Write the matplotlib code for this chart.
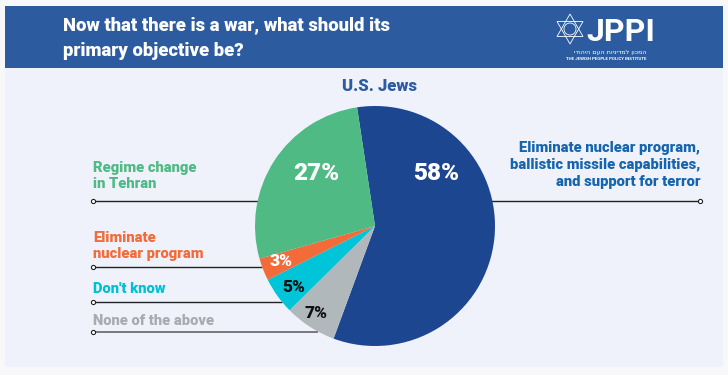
import matplotlib
matplotlib.use("Agg")
import matplotlib.pyplot as plt
from matplotlib.patches import Rectangle, Polygon
import numpy as np

# ---- data ----
categories = ["Eliminate nuclear program,\nballistic missile capabilities,\nand support for terror",
              "None of the above", "Don't know", "Eliminate\nnuclear program",
              "Regime change\nin Tehran"]
values = [58, 7, 5, 3, 27]
pct_labels = ["58%", "7%", "5%", "3%", "27%"]
colors = ["#1d4690", "#b1b8bc", "#00c4d8", "#f26b38", "#4fba84"]
label_colors = ["#1565ae", "#a8acb0", "#00c0d4", "#f26b38", "#4fba84"]
pct_colors = ["white", "#111111", "#111111", "white", "white"]
title = "Now that there is a war, what should its\nprimary objective be?"
subtitle = "U.S. Jews"

W, H = 728, 375
fig = plt.figure(figsize=(W / 100, H / 100), dpi=100)
fig.patch.set_facecolor("#f8f8fb")

bg = fig.add_axes([0, 0, 1, 1], zorder=0)
bg.set_xlim(0, W)
bg.set_ylim(H, 0)
bg.axis("off")

# panels
bg.add_patch(Rectangle((5, 68), 718, 299, facecolor="#eff2fb", edgecolor="none"))
bg.add_patch(Rectangle((5, 6), 718, 62, facecolor="#2c5ba0", edgecolor="none"))

FONT = "Roboto"
HW = 900
bg.text(63, 38, title, color="white", fontsize=13.3, fontweight=HW,
        family=FONT, va="center", ha="left", linespacing=1.6)

# logo
cx, cy, r = 570, 29, 15
for rot in (90, -90):
    ang = np.deg2rad(np.array([rot, rot + 120, rot + 240]))
    pts = np.column_stack([cx + r * np.cos(ang), cy - r * np.sin(ang)])
    bg.add_patch(Polygon(pts, closed=True, fill=False, edgecolor="white", lw=0.6))
circ = plt.Circle((cx, cy), 6, fill=False, edgecolor="white", lw=0.6)
bg.add_patch(circ)
bg.text(586, 32, "JPPI", color="white", fontsize=23, fontweight="bold",
        family=FONT, va="center", ha="left")
bg.text(646, 52, "המכון למדיניות העם היהודי"[::-1], color="white", fontsize=4.6,
        family="DejaVu Sans", va="center", ha="right")
bg.text(646, 59, "THE JEWISH PEOPLE POLICY INSTITUTE", color="white", fontsize=3.2,
        fontweight="bold", family=FONT, va="center", ha="right")

bg.text(380, 86, subtitle, color="#2b5ba1", fontsize=12, fontweight=HW,
        family=FONT, ha="center", va="center")

# label positions (pixel)
lab_specs = [
    # (text x, text y, ha, line y, line x0, line x1, dot x)
    (700, 165, "right", 201, 487, 700, 700),
    (93, 321, "left", 332, 93, 318, 93),
    (93, 289, "left", 302, 93, 282, 93),
    (93, 246, "left", 267, 93, 262, 93),
    (93, 176, "left", 201, 93, 260, 93),
]
line_cols = ["#222222", "#6e6e76", "#222222", "#222222", "#222222"]
for i, (tx, ty, ha, ly, x0, x1, dx) in enumerate(lab_specs):
    bg.text(tx, ty, categories[i], color=label_colors[i], fontsize=10.6,
            fontweight=HW, family=FONT, ha=ha, va="center",
            multialignment=ha, linespacing=1.25)
    bg.plot([x0, x1], [ly, ly], color=line_cols[i], lw=1.3 if i == 1 else 1.0,
            solid_capstyle="butt")
    bg.plot([dx], [ly], marker="o", ms=3, mfc="white", mec="#222222", mew=0.8)

# pie
cxp, cyp, R = 375, 226, 120
pax = fig.add_axes([(cxp - R) / W, (H - cyp - R) / H, 2 * R / W, 2 * R / H], zorder=1)
pax.patch.set_alpha(0)
wedges, _ = pax.pie(values, colors=colors, startangle=98.6, counterclock=False,
                    radius=1, wedgeprops=dict(linewidth=0))
pax.set_xlim(-1, 1)
pax.set_ylim(-1, 1)
pax.set_aspect("equal")
pax.axis("off")

pct_pos = [(436, 173), (316, 313), (294, 287), (281, 261), (316, 173)]
pct_sizes = [17.5, 12.5, 12.5, 12.5, 17.5]
for i, (px, py) in enumerate(pct_pos):
    bg_x = (px - cxp) / R
    bg_y = (cyp - py) / R
    pax.text(bg_x, bg_y, pct_labels[i], color=pct_colors[i], fontsize=pct_sizes[i],
             fontweight=HW, family=FONT, ha="center", va="center")

fig.savefig("out.png", dpi=100, facecolor=fig.get_facecolor())
